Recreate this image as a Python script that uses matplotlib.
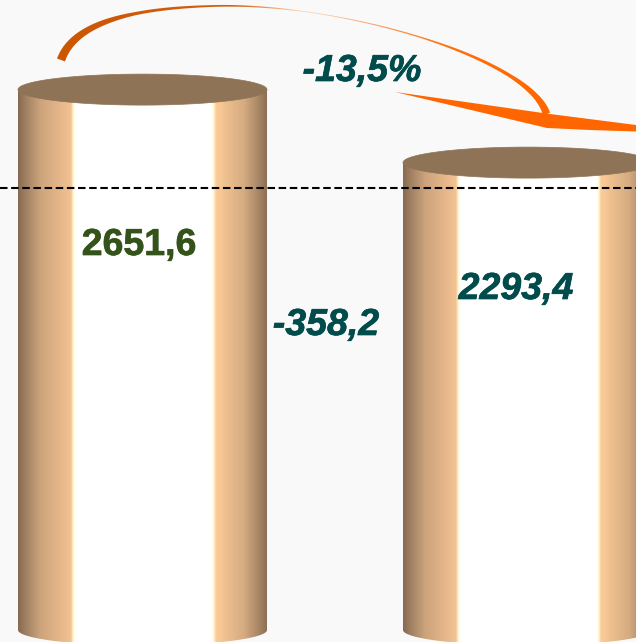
import numpy as np
import matplotlib
matplotlib.use("Agg")
import matplotlib.pyplot as plt
import matplotlib.patheffects as pe
from matplotlib.patches import Polygon

# --- data ---
categories = ["A", "B"]
values = [2651.6, 2293.4]
value_labels = ["2651,6", "2293,4"]
change_label = "-358,2"
percent_label = "-13,5%"

W, H = 636, 642
BG = "#f9f9f9"
PX_PER_UNIT = 0.2038
BASE_PY = 630
centers = [142.5, 527.5]
HALF_W = 124.5
ELL_H = 15.5

fig = plt.figure(figsize=(W / 100, H / 100), dpi=100, facecolor=BG)
ax = fig.add_axes([0, 0, 1, 1])
ax.set_facecolor(BG)
ax.axis("off")


def py(p):
    """Pixel row to value axis."""
    return (BASE_PY - p) / PX_PER_UNIT


def bezier(p0, p1, p2, p3, n=120):
    u = np.linspace(0, 1, n)[:, None]
    p0, p1, p2, p3 = [np.array(q, float) for q in (p0, p1, p2, p3)]
    return (1 - u) ** 3 * p0 + 3 * (1 - u) ** 2 * u * p1 + 3 * (1 - u) * u ** 2 * p2 + u ** 3 * p3


stops = [0, 0.03, 0.09, 0.212, 0.222, 0.232, 0.778, 0.786, 0.796, 0.91, 0.97, 1.0]
cols = np.array([[134, 106, 80], [160, 128, 98], [205, 164, 124], [243, 194, 146], [255, 250, 215],
                 [255, 255, 255], [255, 255, 255], [255, 250, 215], [253, 204, 152],
                 [212, 170, 128], [165, 132, 100], [140, 112, 85]]) / 255
pos = np.linspace(0, 1, 500)
grad = np.stack([np.interp(pos, stops, cols[:, i]) for i in range(3)], axis=1)[None, :, :]
ang = np.linspace(0, 2 * np.pi, 200)

for cx, v in zip(centers, values):
    l, r = cx - HALF_W, cx + HALF_W
    a = np.linspace(0, np.pi, 100)
    body_x = np.r_[l, r, cx + HALF_W * np.cos(a)]
    body_y = np.r_[v, v, -ELL_H / PX_PER_UNIT * np.sin(a)]
    patch = Polygon(np.c_[body_x, body_y], closed=True, fc="none", ec="none")
    ax.add_patch(patch)
    im = ax.imshow(grad, extent=[l, r, py(H + 5), v], aspect="auto", zorder=2, interpolation="bilinear")
    im.set_clip_path(patch)
    ax.fill(cx + HALF_W * np.cos(ang), v + ELL_H / PX_PER_UNIT * np.sin(ang),
            fc="#8f7356", ec="#8f7356", lw=0.5, zorder=3)

# reference line
ax.plot([0, W], [py(188)] * 2, color="black", lw=1.5, dashes=(3.6, 1.75), zorder=4)

# change arrow, traced in pixel coordinates: a centre curve with a varying width
centre = np.vstack([bezier((61, 60), (75, 20), (140, 8), (213, 6)),
                    bezier((213, 6), (340, 2), (530, 58), (546.5, 114))[1:]])
width = np.interp(centre[:, 0], [61, 85, 135, 213, 320, 420, 510, 535, 546.5],
                  [8.5, 6.5, 3.2, 1.8, 0.7, 1.4, 3.5, 5.5, 7.5])
tang = np.gradient(centre, axis=0)
norm = np.c_[-tang[:, 1], tang[:, 0]] / np.hypot(tang[:, 0], tang[:, 1])[:, None]
edge = np.vstack([centre + norm * width[:, None] / 2, (centre - norm * width[:, None] / 2)[::-1]])
edge[:, 1] = py(edge[:, 1])
arc_patch = Polygon(edge, closed=True, fc="none", ec="none")
ax.add_patch(arc_patch)
t = np.linspace(0, 1, 400)
knots = [0, .36, .50, .62, .80, 1]
arc_grad = np.stack([np.interp(t, knots, [204, 210, 250, 250, 255, 255]),
                     np.interp(t, knots, [85, 95, 215, 170, 110, 102]),
                     np.interp(t, knots, [0, 15, 190, 120, 10, 0])], axis=1)[None] / 255
im = ax.imshow(arc_grad, extent=[50, 555, py(130), py(0)], aspect="auto", zorder=5)
im.set_clip_path(arc_patch)

wedge = [(395, 92), (550, 114), (636, 125), (636, 131.5), (590, 130), (547, 128)]
ax.fill([x for x, _ in wedge], [py(y) for _, y in wedge], color="#ff6600", lw=0, zorder=5)

ax.set_xlim(0, W)
ax.set_ylim((BASE_PY - H) / PX_PER_UNIT, BASE_PY / PX_PER_UNIT)

# labels
font = dict(family="Liberation Sans", weight="bold", fontsize=27, ha="center", va="center", zorder=6)
bold = lambda c: [pe.withStroke(linewidth=0.5, foreground=c)]
ax.text(139, py(245), value_labels[0], color="#33531a", path_effects=bold("#33531a"), **font)
for x, y, s in [(516, 289, value_labels[1]), (326, 325, change_label), (362, 71, percent_label)]:
    ax.text(x, py(y), s, color="#004b4b", style="italic", path_effects=bold("#004b4b"), **font)

fig.savefig("out.png", dpi=100, facecolor=BG)
